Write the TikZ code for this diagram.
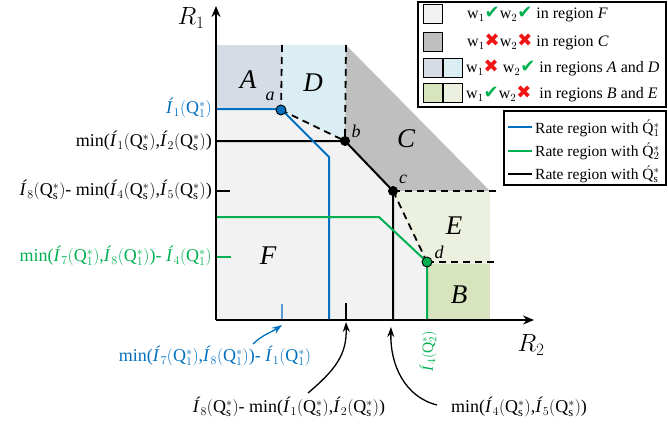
\documentclass[tikz,border=0pt]{standalone}
\usepackage{fontspec}
\setmainfont{Liberation Serif}
\newfontfamily\symf{DejaVu Sans}
\usetikzlibrary{arrows.meta}
\definecolor{cA}{RGB}{214,220,229}
\definecolor{cD}{RGB}{218,238,243}
\definecolor{cC}{RGB}{191,191,191}
\definecolor{cE}{RGB}{235,241,222}
\definecolor{cB}{RGB}{215,228,189}
\definecolor{cF}{RGB}{242,242,242}
\definecolor{bl}{RGB}{0,112,192}
\definecolor{gr}{RGB}{0,176,80}
\definecolor{lbl}{RGB}{91,155,213}
\definecolor{rd}{RGB}{240,20,20}
\newcommand\Ia[1]{\textit{Í}$_{#1}$}
\newcommand\Qa[1]{$(\mathrm{Q}^*_{#1})$}
\newcommand\chk{{\symf\fontsize{18}{20}\selectfont\color{gr}\char"2714}}
\newcommand\crs{{\symf\fontsize{18}{20}\selectfont\color{rd}\char"2716}}
\tikzset{
  lab/.style={font=\fontsize{18}{20}\selectfont, inner sep=1pt},
  reg/.style={font=\fontsize{27}{30}\selectfont\itshape, inner sep=0pt},
  pl/.style={font=\fontsize{18}{20}\selectfont\itshape, inner sep=0pt},
  leg/.style={font=\fontsize{16}{18}\selectfont, inner sep=0pt, anchor=west},
  leg2/.style={font=\fontsize{15.5}{18}\selectfont, inner sep=0pt, anchor=west},
  sw/.style={draw, line width=1pt, minimum width=19pt, minimum height=19pt, inner sep=0pt},
  frame/.style={draw, line width=1.1pt},
  dsh/.style={line width=1.8pt, dash pattern=on 7pt off 5pt},
  rate/.style={line width=2pt},
  dot/.style={circle, draw=black, line width=0.9pt, minimum size=10pt, inner sep=0pt},
  axis/.style={line width=2.4pt, -{Stealth[length=11pt,width=9pt]}},
  call/.style={line width=1.3pt, -{Stealth[length=10pt,width=7pt]}},
}
\begin{document}
\begin{tikzpicture}[x=1pt,y=-1pt]
\useasboundingbox (0,0) rectangle (668,428);
% regions
\fill[cF] (216,109) -- (281,109) -- (281,110) -- (345,141) -- (393,191) -- (427,264) -- (427,320) -- (216,320) -- cycle;
\fill[cA] (216,45) rectangle (282,109);
\fill[cD] (282,45) -- (346,45) -- (345,141) -- (281,110) -- cycle;
\fill[cC] (346,45) -- (490,191) -- (393,191) -- (345,141) -- cycle;
\fill[cE] (393,191) -- (490,191) -- (490,264) -- (427,264) -- cycle;
\fill[cB] (427,264) rectangle (490,320);
% corner points
\coordinate (a) at (281,110);
\coordinate (b) at (345,141);
\coordinate (c) at (393,191);
\coordinate (d) at (427,262);
\coordinate (aT) at (282,45);
\coordinate (bT) at (346,45);
\coordinate (cR) at (497,191);
\coordinate (dR) at (497,262);
% dashed
\draw[dsh] (aT) -- (a);
\draw[dsh] (bT) -- (b);
\draw[dsh] (a) -- (b);
\draw[dsh] (c) -- (d);
\draw[dsh] (c) -- (cR);
\draw[dsh] (d) -- (dR);
% rate regions
\coordinate (k0) at (216,141);
\coordinate (k1) at (393,320);
\draw[rate, line join=round] (k0) -- (b) -- (c) -- (k1);
\coordinate (b0) at (216,109);
\coordinate (b1) at (329,157);
\coordinate (b2) at (329,320);
\draw[rate, bl, line join=round] (b0) -- (281,109) -- (b1) -- (b2);
\coordinate (g0) at (216,217);
\coordinate (g1) at (379,217);
\coordinate (g2) at (427,320);
\draw[rate, gr, line join=round] (g0) -- (g1) -- (d) -- (g2);
% ticks
\coordinate (t1) at (216,191); \coordinate (t1e) at (230,191);
\draw[line width=2pt] (t1) -- (t1e);
\coordinate (t2) at (216,257); \coordinate (t2e) at (231,257);
\draw[line width=2pt, gr] (t2) -- (t2e);
\coordinate (t3) at (282,304); \coordinate (t3e) at (282,320);
\draw[line width=2pt, lbl] (t3) -- (t3e);
\coordinate (t4) at (346,303); \coordinate (t4e) at (346,320);
\draw[line width=2pt] (t4) -- (t4e);
% axes
\coordinate (o) at (216,320);
\coordinate (yT) at (216,6);
\coordinate (xR) at (534,320);
\draw[axis] (o) -- (yT);
\draw[axis] (o) -- (xR);
\node[font=\fontsize{27}{30}\selectfont, inner sep=0pt] (R1) at (191,18) {$R_1$};
\node[font=\fontsize{27}{30}\selectfont, inner sep=0pt] (R2) at (531,345) {$R_2$};
% dots
\node[dot, fill=bl] (da) at (a) {};
\node[dot, fill=black, minimum size=9pt] (db) at (b) {};
\node[dot, fill=black, minimum size=9pt] (dc) at (c) {};
\node[dot, fill=gr] (dd) at (d) {};
\node[pl] (la) at (270,96) {a};
\node[pl] (lb) at (356,131) {b};
\node[pl] (lc) at (403,179) {c};
\node[pl] (ld) at (439,252) {d};
% region labels
\node[reg] (rA) at (248,80) {A};
\node[reg] (rD) at (313,83) {D};
\node[reg] (rC) at (406,139) {C};
\node[reg] (rE) at (454,226) {E};
\node[reg] (rB) at (459,295) {B};
\node[reg] (rF) at (268,256) {F};
% axis labels
\node[lab, anchor=east, text=bl] (y1) at (213,108) {\Ia1\Qa1};
\node[lab, anchor=east] (y2) at (213,141) {min(\Ia1\Qa{\mathrm{s}},\Ia2\Qa{\mathrm{s}})};
\node[lab, anchor=east] (y3) at (213,190) {\Ia8\Qa{\mathrm{s}}- min(\Ia4\Qa{\mathrm{s}},\Ia5\Qa{\mathrm{s}})};
\node[lab, anchor=east, text=gr] (y4) at (213,256) {min(\Ia7\Qa1,\Ia8\Qa1)- \Ia4\Qa1};
\node[lab, text=bl] (x1) at (215,356) {min(\Ia7\Qa1,\Ia8\Qa1)- \Ia1\Qa1};
\node[lab] (x2) at (289,407) {\Ia8\Qa{\mathrm{s}}- min(\Ia1\Qa{\mathrm{s}},\Ia2\Qa{\mathrm{s}})};
\node[lab] (x3) at (519,407) {min(\Ia4\Qa{\mathrm{s}},\Ia5\Qa{\mathrm{s}})};
\node[lab, text=gr, rotate=90, font=\fontsize{15.5}{17}\selectfont] (x4) at (428,351) {\Ia4\Qa2};
% callouts
\coordinate (cb1) at (253,344); \coordinate (cb2) at (282,325);
\draw[call, bl] (cb1) .. controls (262,335) and (272,332) .. (cb2);
\coordinate (ck1) at (308,393); \coordinate (ck2) at (346,322);
\draw[call] (ck1) .. controls (335,370) and (347,355) .. (ck2);
\coordinate (cc1) at (437,405); \coordinate (cc2) at (391,327);
\draw[call] (cc1) .. controls (405,397) and (390,365) .. (cc2);
% legend 1
\coordinate (L1a) at (418,2); \coordinate (L1b) at (666,107);
\draw[frame] (L1a) rectangle (L1b);
\node[sw, fill=cF] (s1) at (433,14) {};
\node[sw, fill=cC] (s2) at (433,42) {};
\node[sw, fill=cA] (s3a) at (433,68) {};
\node[sw, fill=cD] (s3b) at (452.5,68) {};
\node[sw, fill=cB] (s4a) at (433,93) {};
\node[sw, fill=cE] (s4b) at (452.5,93) {};
\node[leg] (l1) at (467,15) {w$_1$\chk w$_2$\chk\ in region \textit{F}};
\node[leg] (l2) at (467,42) {w$_1$\crs w$_2$\crs\ in region \textit{C}};
\node[leg] (l3) at (466,68) {w$_1$\crs\ w$_2$\chk\ in regions \textit{A} and \textit{D}};
\node[leg] (l4) at (466,94) {w$_1$\chk w$_2$\crs\ \ in regions \textit{B} and \textit{E}};
% legend 2
\coordinate (L2a) at (504,111); \coordinate (L2b) at (666,185);
\draw[frame] (L2a) rectangle (L2b);
\coordinate (m1a) at (508,127); \coordinate (m1b) at (532,127);
\coordinate (m2a) at (508,151); \coordinate (m2b) at (532,151);
\coordinate (m3a) at (508,174); \coordinate (m3b) at (532,174);
\draw[rate, bl] (m1a) -- (m1b);
\draw[rate, gr] (m2a) -- (m2b);
\draw[rate] (m3a) -- (m3b);
\node[leg2] (n1) at (535,128) {Rate region with $\acute{\mathrm{Q}}^*_1$};
\node[leg2] (n2) at (535,151) {Rate region with $\acute{\mathrm{Q}}^*_2$};
\node[leg2] (n3) at (535,174) {Rate region with $\acute{\mathrm{Q}}^*_{\mathrm{s}}$};
\end{tikzpicture}
\end{document}
